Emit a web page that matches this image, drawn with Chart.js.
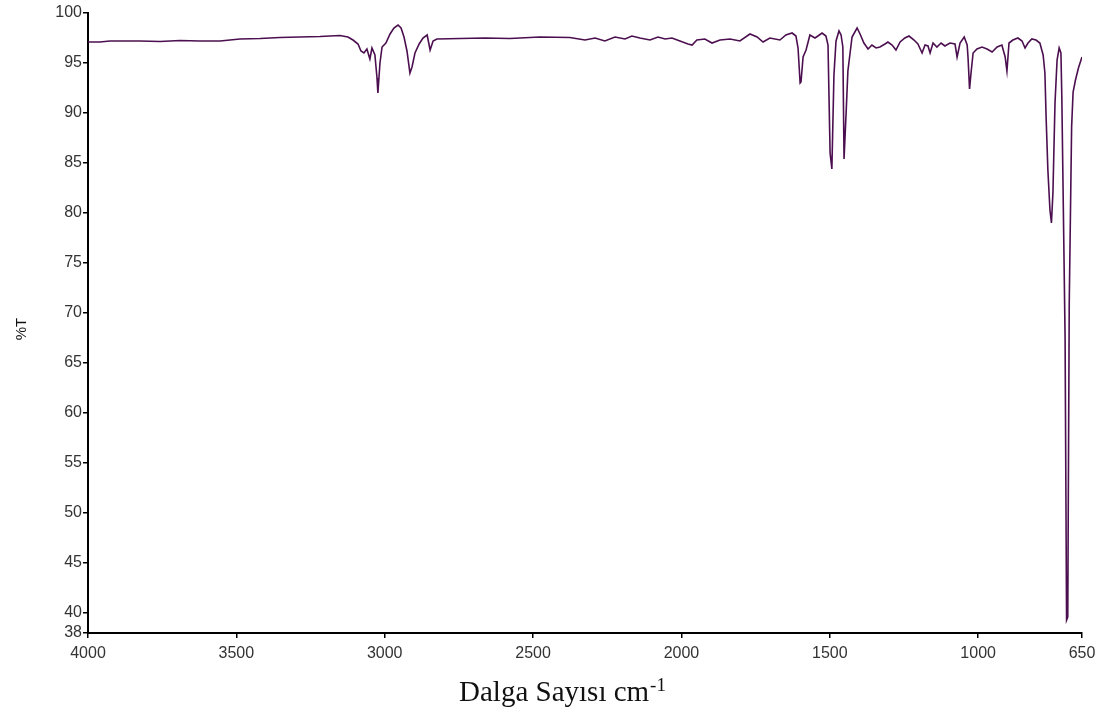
<!DOCTYPE html>
<html>
<head>
<meta charset="utf-8">
<title>IR spektrumu</title>
<script src="https://cdn.jsdelivr.net/npm/chart.js@4.4.1/dist/chart.umd.min.js"></script>
<style>
    html, body { margin: 0; padding: 0; background: #fff; }
    #wrap { width: 1106px; height: 715px; }
</style>
</head>
<body>
<div id="wrap"><canvas id="irChart" width="1106" height="715"></canvas></div>
<script>
// Dalga sayısı (cm-1) ve geçirgenlik (%T) değerleri
const wavenumbers = [
    4000, 3960, 3926, 3825, 3757, 3690, 3623, 3555, 3488, 3420, 3353, 3286, 3218, 3184, 3151,
    3124, 3107, 3090, 3080, 3070, 3060, 3050, 3043, 3033, 3026, 3023, 3016, 3009, 2996, 2982,
    2969, 2955, 2945, 2935, 2925, 2915, 2908, 2898, 2884, 2871, 2857, 2847, 2837, 2824, 2746,
    2662, 2578, 2477, 2376, 2325, 2291, 2258, 2224, 2190, 2167, 2140, 2106, 2079, 2055, 2032,
    2005, 1978, 1964, 1948, 1921, 1897, 1870, 1836, 1803, 1769, 1745, 1725, 1702, 1668, 1648,
    1627, 1614, 1607, 1600, 1597, 1590, 1580, 1567, 1550, 1540, 1526, 1513, 1506, 1499, 1493,
    1486, 1479, 1469, 1462, 1456, 1452, 1445, 1439, 1425, 1408, 1398, 1385, 1371, 1358, 1344,
    1331, 1314, 1304, 1290, 1277, 1263, 1247, 1233, 1216, 1203, 1189, 1179, 1169, 1162, 1152,
    1139, 1125, 1112, 1095, 1078, 1071, 1061, 1047, 1037, 1034, 1029, 1024, 1017, 1004, 987,
    970, 953, 936, 920, 909, 903, 896, 883, 866, 852, 842, 832, 819, 805, 792,
    781, 775, 771, 765, 758, 753, 748, 741, 734, 727, 721, 718, 707, 702, 698,
    693, 685, 680, 672, 662, 650
];
const transmittance = [
    97.1, 97.1, 97.2, 97.2, 97.15, 97.25, 97.2, 97.2, 97.4, 97.45, 97.55, 97.6, 97.65, 97.7, 97.75,
    97.6, 97.3, 96.9, 96.2, 96.0, 96.4, 95.4, 96.5, 95.8, 93.5, 92.0, 95.0, 96.6, 97.0, 97.9,
    98.5, 98.8, 98.5, 97.6, 96.2, 94.0, 94.6, 96.0, 96.9, 97.5, 97.8, 96.3, 97.2, 97.4, 97.45,
    97.5, 97.45, 97.6, 97.55, 97.3, 97.5, 97.2, 97.6, 97.4, 97.7, 97.5, 97.3, 97.6, 97.4, 97.5,
    97.2, 96.9, 96.8, 97.3, 97.4, 97.0, 97.3, 97.4, 97.2, 97.9, 97.6, 97.1, 97.5, 97.3, 97.8,
    98.0, 97.7, 96.5, 93.0, 93.1, 95.6, 96.3, 97.8, 97.5, 97.7, 98.0, 97.7, 96.8, 86.0, 84.4,
    93.8, 97.2, 98.2, 97.8, 96.6, 85.4, 90.0, 94.2, 97.6, 98.5, 97.9, 97.0, 96.4, 96.8, 96.5,
    96.6, 96.9, 97.1, 96.8, 96.3, 97.1, 97.5, 97.7, 97.3, 96.9, 96.0, 96.8, 96.7, 96.0, 97.0,
    96.6, 97.0, 96.7, 97.0, 96.9, 95.6, 97.0, 97.6, 96.8, 95.5, 92.4, 94.0, 96.0, 96.4, 96.6,
    96.4, 96.1, 96.6, 96.8, 95.6, 94.2, 97.0, 97.3, 97.5, 97.2, 96.5, 97.0, 97.4, 97.3, 97.0,
    95.8, 94.0, 89.6, 84.3, 80.3, 79.0, 82.0, 91.0, 95.3, 96.5, 96.0, 91.6, 67.6, 39.3, 39.6,
    71.0, 88.6, 92.1, 93.3, 94.5, 95.6
];
const xTickValues = [4000, 3500, 3000, 2500, 2000, 1500, 1000, 650];
const yTickValues = [100, 95, 90, 85, 80, 75, 70, 65, 60, 55, 50, 45, 40, 38];

const points = wavenumbers.map((w, i) => ({ x: w, y: transmittance[i] }));

// Eksen başlıkları (x başlığında üst simge olduğu için elle çiziliyor)
const axisTitles = {
    id: 'axisTitles',
    afterDraw(chart) {
        const ctx = chart.ctx;
        ctx.save();
        ctx.fillStyle = '#111';

        ctx.font = '15px "Liberation Sans", Arial, sans-serif';
        ctx.textAlign = 'center';
        ctx.textBaseline = 'middle';
        ctx.translate(22, 329);
        ctx.rotate(-Math.PI / 2);
        ctx.fillText('%T', 0, 0);
        ctx.setTransform(1, 0, 0, 1, 0, 0);

        const main = 'Dalga Sayısı cm';
        const sup = '-1';
        const mainFont = '29px "Liberation Serif", "Times New Roman", serif';
        const supFont = '19px "Liberation Serif", "Times New Roman", serif';
        ctx.textBaseline = 'alphabetic';
        ctx.textAlign = 'left';
        ctx.font = mainFont;
        const w1 = ctx.measureText(main).width;
        ctx.font = supFont;
        const w2 = ctx.measureText(sup).width;
        const x0 = 562 - (w1 + w2) / 2;
        ctx.font = mainFont;
        ctx.fillText(main, x0, 701);
        ctx.font = supFont;
        ctx.fillText(sup, x0 + w1 + 1, 691);
        ctx.restore();
    }
};

const tickFont = { family: '"Liberation Sans", Arial, sans-serif', size: 16 };

new Chart(document.getElementById('irChart'), {
    type: 'line',
    data: {
        datasets: [{
            label: '%T',
            data: points,
            borderColor: '#4b0f4f',
            borderWidth: 1.6,
            pointRadius: 0,
            tension: 0,
            fill: false
        }]
    },
    options: {
        responsive: false,
        animation: false,
        layout: { padding: { top: 13, right: 24, left: 0, bottom: 0 } },
        plugins: {
            legend: { display: false },
            tooltip: { enabled: false }
        },
        scales: {
            x: {
                type: 'linear',
                min: 650,
                max: 4000,
                reverse: true,
                afterBuildTicks: (scale) => { scale.ticks = xTickValues.map(v => ({ value: v })); },
                afterFit: (scale) => { scale.height = 82; },
                border: { display: true, color: '#000', width: 2 },
                grid: { drawOnChartArea: false, drawTicks: true, tickLength: 5, color: '#000', lineWidth: 1.5 },
                ticks: {
                    autoSkip: false,
                    maxRotation: 0,
                    padding: 6,
                    color: '#333',
                    font: tickFont,
                    callback: (v) => String(v)
                }
            },
            y: {
                min: 38,
                max: 100,
                afterBuildTicks: (scale) => { scale.ticks = yTickValues.map(v => ({ value: v })); },
                afterFit: (scale) => { scale.width = 88; },
                border: { display: true, color: '#000', width: 2 },
                grid: { drawOnChartArea: false, drawTicks: true, tickLength: 5, color: '#000', lineWidth: 1.5 },
                ticks: {
                    autoSkip: false,
                    padding: 1,
                    color: '#333',
                    font: tickFont,
                    callback: (v) => String(v)
                }
            }
        }
    },
    plugins: [axisTitles]
});
</script>
</body>
</html>
